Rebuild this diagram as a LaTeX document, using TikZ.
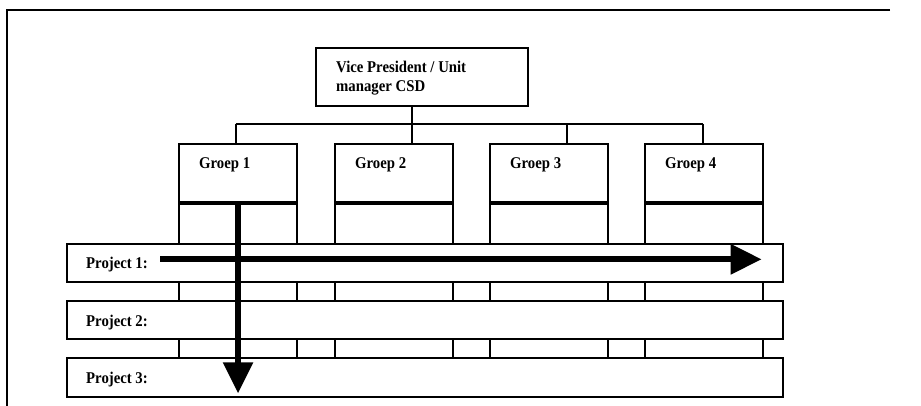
\documentclass[tikz,border=0pt]{standalone}
\usepackage{fontspec}
\setmainfont{Liberation Serif}
\newfontfamily\chartfont[FakeStretch=0.9,BoldFont={Liberation Serif Bold}]{Liberation Serif}
\usetikzlibrary{arrows.meta,calc}
\begin{document}
\begin{tikzpicture}[x=1pt,y=-1pt,
  unitbox/.style={draw,line width=2pt,fill=white,inner sep=0pt,anchor=north west},
  wire/.style={line width=2pt},
  frameline/.style={line width=2.2pt},
  lbl/.style={anchor=base west,inner sep=0pt,font=\chartfont\fontsize{16.4}{19}\selectfont\bfseries},
  bigarrow/.style={line width=6pt,-{Triangle[length=31pt,width=29pt]}}]
\useasboundingbox (0,0) rectangle (921,406);

% outer frame (top and left edges only)
\coordinate (ftr) at (890,10);
\coordinate (ftl) at (7.3,10);
\coordinate (fbl) at (7.3,406);
\draw[frameline] (ftr) -- (ftl) -- (fbl);

% head of the unit
\node[unitbox,minimum width=212pt,minimum height=58.3pt] (vp) at (315,46.7) {};
\node[lbl] (vpt1) at (336,73) {Vice President / Unit};
\node[lbl] (vpt2) at (336,91.5) {manager CSD};

% groups: header box plus column running down behind the project bars
\foreach \i/\x in {1/178.3,2/334.3,3/489.3,4/644.3}{
  \node[unitbox,minimum width=117.5pt,minimum height=57.4pt] (g\i) at (\x,143.3) {};
  \node[unitbox,anchor=north,minimum width=117.5pt,minimum height=157pt] (c\i) at (g\i.south) {};
  \node[lbl] (gt\i) at ($(g\i.north west)+(20.7,25.7)$) {Groep \i};
}

% reporting lines
\coordinate (b1) at (235.7,124);
\coordinate (b2) at (412,124);
\coordinate (b3) at (567.3,124);
\coordinate (b4) at (703.3,124);
\draw[wire] (b1) -- (b4);
\draw[wire] (b2 |- vp.south) -- (b2 |- g2.north);
\draw[wire] (b1) -- (b1 |- g1.north);
\draw[wire] (b3) -- (b3 |- g3.north);
\draw[wire] (b4) -- (b4 |- g4.north);

% project bars
\foreach \i/\y in {1/242.7,2/300,3/357.3}{
  \node[unitbox,minimum width=716pt,minimum height=38.3pt] (p\i) at (65.7,\y) {};
  \node[lbl] (pt\i) at ($(p\i.north west)+(20.3,26)$) {Project \i:};
}

% matrix arrows
\coordinate (h0) at (160,259.3);
\coordinate (h1) at (761.7,259.3);
\draw[bigarrow] (h0) -- (h1);
\coordinate (v1) at (237,393.3);
\draw[bigarrow] (g1.south) -- (g1.south |- v1);
\end{tikzpicture}
\end{document}
